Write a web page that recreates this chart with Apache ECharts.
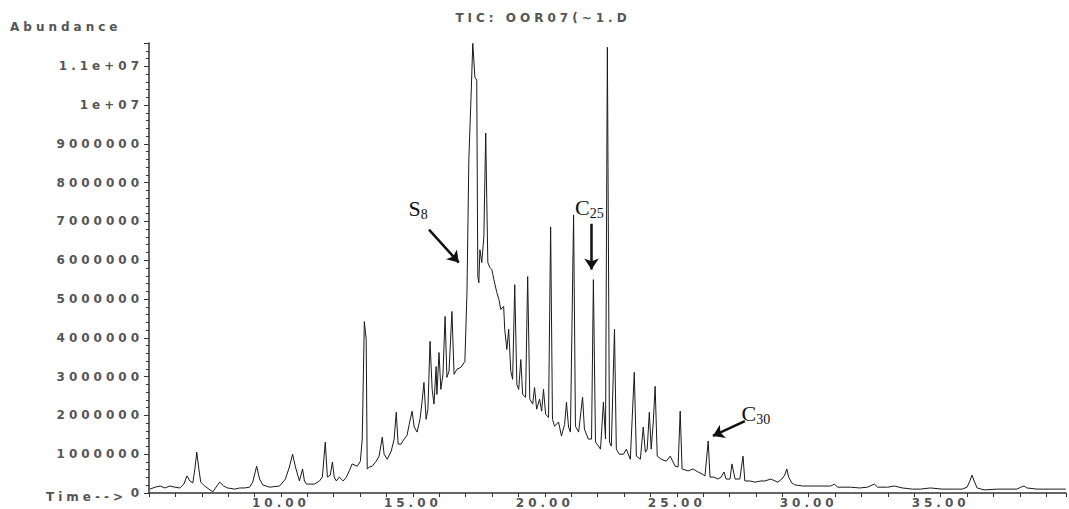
<!DOCTYPE html>
<html>
<head>
<meta charset="utf-8">
<script src="https://cdn.jsdelivr.net/npm/echarts/dist/echarts.min.js"></script>
<style>
html, body { margin: 0; padding: 0; background: #fff; }
#tic { width: 1069px; height: 509px; }
/* the instrument printout uses a very wide font, spread the glyphs out */
#tic text { letter-spacing: 4px; }
#tic text[style*="Serif"] { letter-spacing: 0; }
</style>
</head>
<body>
<div id="tic"></div>
<script>
// retention time (min)
var rt = [
  5.04, 5.23, 5.42, 5.60, 5.79, 5.98, 6.17, 6.32, 6.44, 6.55,
  6.66, 6.74, 6.81, 6.89, 6.96, 7.11, 7.27, 7.42, 7.57, 7.68,
  7.83, 7.98, 8.25, 8.44, 8.63, 8.81, 8.93, 9.08, 9.19, 9.31,
  9.57, 9.95, 10.17, 10.32, 10.44, 10.55, 10.70, 10.82, 10.89, 10.97,
  11.27, 11.46, 11.57, 11.68, 11.76, 11.87, 11.95, 12.02, 12.10, 12.21,
  12.36, 12.48, 12.59, 12.70, 12.89, 13.01, 13.08, 13.16, 13.23, 13.27,
  13.35, 13.46, 13.61, 13.72, 13.84, 13.91, 14.03, 14.18, 14.29, 14.37,
  14.44, 14.55, 14.67, 14.78, 14.86, 14.97, 15.05, 15.16, 15.27, 15.35,
  15.42, 15.50, 15.57, 15.65, 15.73, 15.80, 15.88, 15.91, 15.99, 16.06,
  16.14, 16.22, 16.29, 16.37, 16.48, 16.56, 16.67, 16.82, 16.97, 17.05,
  17.12, 17.20, 17.27, 17.35, 17.42, 17.46, 17.50, 17.54, 17.61, 17.69,
  17.76, 17.80, 17.84, 17.92, 17.99, 18.07, 18.18, 18.26, 18.33, 18.44,
  18.48, 18.56, 18.63, 18.71, 18.78, 18.86, 18.94, 19.01, 19.09, 19.16,
  19.27, 19.35, 19.43, 19.54, 19.61, 19.69, 19.80, 19.88, 19.95, 20.03,
  20.14, 20.22, 20.29, 20.37, 20.52, 20.63, 20.75, 20.82, 20.90, 20.97,
  21.09, 21.16, 21.28, 21.43, 21.50, 21.65, 21.77, 21.84, 21.92, 22.03,
  22.11, 22.22, 22.30, 22.37, 22.45, 22.52, 22.64, 22.71, 22.82, 22.98,
  23.09, 23.24, 23.39, 23.47, 23.62, 23.73, 23.81, 23.88, 23.96, 24.03,
  24.11, 24.18, 24.26, 24.41, 24.60, 24.75, 24.94, 25.05, 25.13, 25.20,
  25.43, 25.62, 25.81, 25.96, 26.07, 26.19, 26.26, 26.41, 26.56, 26.68,
  26.79, 26.87, 27.02, 27.09, 27.21, 27.39, 27.51, 27.58, 27.77, 27.96,
  28.19, 28.34, 28.56, 28.83, 28.98, 29.09, 29.17, 29.24, 29.36, 29.47,
  29.77, 30.15, 30.57, 30.83, 30.98, 31.09, 31.59, 31.93, 32.23, 32.49,
  32.61, 32.99, 33.25, 33.55, 33.93, 34.23, 34.61, 35.06, 35.44, 35.82,
  36.00, 36.12, 36.19, 36.27, 36.38, 36.65, 37.14, 37.59, 37.89, 38.04,
  38.16, 38.27, 38.65, 39.03, 39.40, 39.74
];

// abundance (counts), same order as rt
var abundance = [
  100000, 150000, 180000, 130000, 180000, 150000, 130000, 230000, 440000, 310000,
  260000, 620000, 1050000, 620000, 280000, 180000, 100000, 30000, 180000, 280000,
  180000, 130000, 100000, 130000, 130000, 150000, 280000, 690000, 360000, 210000,
  150000, 180000, 360000, 670000, 1000000, 670000, 310000, 620000, 310000, 230000,
  230000, 310000, 410000, 1310000, 410000, 460000, 800000, 410000, 310000, 410000,
  310000, 410000, 570000, 750000, 690000, 820000, 1390000, 4420000, 3960000, 620000,
  670000, 690000, 820000, 950000, 1440000, 1000000, 870000, 1080000, 1390000, 2080000,
  1260000, 1260000, 1390000, 1490000, 1770000, 2110000, 1700000, 1570000, 1900000, 2370000,
  2850000, 1900000, 2160000, 3910000, 2670000, 2290000, 3260000, 2540000, 3620000, 2670000,
  3060000, 4550000, 2980000, 3140000, 4680000, 3060000, 3190000, 3240000, 3390000, 5170000,
  8590000, 10130000, 11590000, 10720000, 10640000, 5580000, 5420000, 6270000, 5940000, 6610000,
  9280000, 7560000, 5940000, 5810000, 5760000, 5500000, 5170000, 4990000, 4730000, 4810000,
  4220000, 3700000, 4220000, 3140000, 2930000, 5370000, 2800000, 2670000, 3440000, 2540000,
  2470000, 5580000, 2420000, 2290000, 2720000, 2160000, 2420000, 2110000, 2670000, 2030000,
  1950000, 6860000, 1900000, 1720000, 1830000, 1470000, 1770000, 2340000, 1700000, 1570000,
  7170000, 1720000, 1570000, 2470000, 1650000, 1390000, 1390000, 5500000, 1310000, 1210000,
  1130000, 2340000, 1390000, 11490000, 1310000, 1210000, 4220000, 1130000, 1000000, 1000000,
  1130000, 870000, 3110000, 950000, 870000, 1700000, 1050000, 1130000, 2080000, 1130000,
  1830000, 2750000, 950000, 870000, 820000, 950000, 690000, 670000, 2110000, 620000,
  570000, 620000, 540000, 490000, 440000, 1340000, 410000, 410000, 360000, 410000,
  540000, 360000, 360000, 750000, 360000, 360000, 950000, 310000, 310000, 280000,
  310000, 310000, 360000, 280000, 360000, 460000, 620000, 410000, 260000, 210000,
  180000, 180000, 180000, 180000, 230000, 150000, 150000, 130000, 150000, 230000,
  150000, 150000, 180000, 130000, 100000, 100000, 130000, 100000, 100000, 100000,
  150000, 330000, 460000, 310000, 130000, 80000, 100000, 100000, 100000, 150000,
  180000, 130000, 100000, 100000, 100000, 100000
];

// peak labels (retention time, abundance where the label sits)
var peakLabels = [
  { main: 'S', sub: '8', rt: 15.20, abundance: 7300000 },
  { main: 'C', sub: '25', rt: 21.69, abundance: 7340000 },
  { main: 'C', sub: '30', rt: 28.00, abundance: 2030000 }
];
// arrows from label to peak: [from, to] in [rt, abundance]
var peakArrows = [
  [[15.61, 6790000], [16.74, 5940000]],
  [[21.77, 6940000], [21.77, 5760000]],
  [[27.58, 1850000], [26.37, 1470000]]
];

var axisFont = 'DejaVu Sans';
var textColor = '#555';
var lineColor = '#333';

var points = rt.map(function (t, i) { return [t, abundance[i]]; });

var myChart = echarts.init(document.getElementById('tic'), null, { renderer: 'svg' });

var option = {
  animation: false,
  backgroundColor: '#fff',
  grid: { left: 149, right: 0, top: 43, bottom: 15 },
  graphic: [
    {
      type: 'text', x: 543, y: 18,
      style: { text: 'TIC: OOR07(~1.D', fill: textColor, fontSize: 12, fontWeight: 'bold', fontFamily: axisFont,
        align: 'center', textAlign: 'center', verticalAlign: 'middle', textVerticalAlign: 'middle' }
    },
    {
      type: 'text', x: 10, y: 27,
      style: { text: 'Abundance', fill: textColor, fontSize: 12, fontWeight: 'bold', fontFamily: axisFont,
        align: 'left', textAlign: 'left', verticalAlign: 'middle', textVerticalAlign: 'middle' }
    },
    {
      type: 'text', x: 127, y: 497,
      style: { text: 'Time-->', fill: textColor, fontSize: 12, fontWeight: 'bold', fontFamily: axisFont,
        align: 'right', textAlign: 'right', verticalAlign: 'middle', textVerticalAlign: 'middle' }
    }
  ],
  xAxis: {
    type: 'value',
    min: 5,
    max: 39.75,
    interval: 1,
    axisLine: { show: true, lineStyle: { color: lineColor, width: 1.5 } },
    axisTick: { show: true, length: 4, lineStyle: { color: lineColor } },
    axisLabel: {
      color: textColor, fontFamily: axisFont, fontSize: 12, fontWeight: 'bold', margin: 4,
      formatter: function (v) {
        return (v % 5 === 0 && v > 5) ? v.toFixed(2) : '';
      }
    },
    splitLine: { show: false }
  },
  yAxis: {
    type: 'value',
    min: 0,
    max: 11600000,
    interval: 1000000,
    axisLine: { show: true, lineStyle: { color: lineColor, width: 1.5 } },
    axisTick: { show: true, length: 5, lineStyle: { color: lineColor } },
    minorTick: { show: true, splitNumber: 5, length: 3, lineStyle: { color: lineColor } },
    axisLabel: {
      color: textColor, fontFamily: axisFont, fontSize: 12, fontWeight: 'bold', margin: 6,
      formatter: function (v) {
        if (v === 0) return '0';
        if (v % 1000000 !== 0) return '';
        if (v >= 10000000) return (v / 10000000) + 'e+07';
        return String(v);
      }
    },
    splitLine: { show: false }
  },
  series: [{
    name: 'TIC',
    type: 'line',
    data: points,
    symbol: 'none',
    showSymbol: false,
    lineStyle: { color: '#1a1a1a', width: 1 },
    markLine: {
      silent: true,
      symbol: ['none', 'arrow'],
      symbolSize: 11,
      lineStyle: { color: '#111', width: 2.5, type: 'solid' },
      label: { show: false },
      data: peakArrows.map(function (a) {
        return [{ coord: a[0] }, { coord: a[1] }];
      })
    },
    markPoint: {
      silent: true,
      symbol: 'circle',
      symbolSize: 0,
      label: {
        show: true,
        position: 'inside',
        formatter: function (p) {
          var l = peakLabels[p.dataIndex];
          return '{m|' + l.main + '}{s|' + l.sub + '}';
        },
        rich: {
          m: { fontFamily: 'Liberation Serif', fontSize: 22, lineHeight: 24, color: '#111', verticalAlign: 'top' },
          s: { fontFamily: 'Liberation Serif', fontSize: 14, lineHeight: 14, color: '#111', padding: [14, 0, 0, 0], verticalAlign: 'bottom' }
        }
      },
      data: peakLabels.map(function (l) {
        return { coord: [l.rt, l.abundance], value: l.main + l.sub };
      })
    }
  }]
};

myChart.setOption(option);
</script>
</body>
</html>
